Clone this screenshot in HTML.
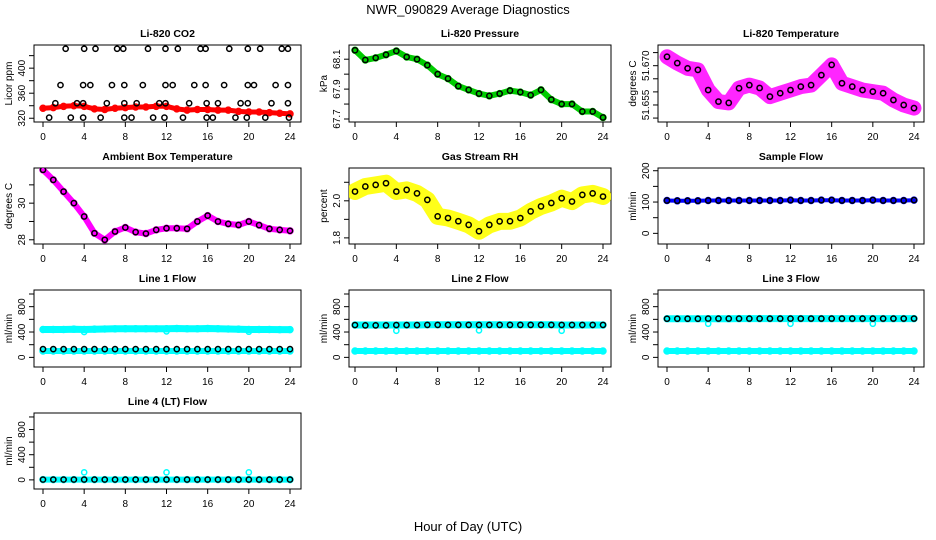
<!DOCTYPE html>
<html><head><meta charset="utf-8"><style>
html,body{margin:0;padding:0;background:#fff;}
svg{display:block;font-family:"Liberation Sans",sans-serif;}
</style></head><body>
<svg id="chart" width="936" height="540" viewBox="0 0 936 540">
<rect width="936" height="540" fill="#fff"/>
<text x="468" y="14" font-size="13" text-anchor="middle">NWR_090829  Average Diagnostics</text>
<text x="468" y="531" font-size="13" text-anchor="middle">Hour of Day (UTC)</text>
</svg>
<script>
// ---------- data ----------
const hours = [0,1,2,3,4,5,6,7,8,9,10,11,12,13,14,15,16,17,18,19,20,21,22,23,24];
const xTicks = [0,4,8,12,16,20,24];

const co2Red = [336,337,339,340,339,335,334,336,337,338,338,339,339,335,333,334,334,333,333,331,330,330,329,328,327];
const co2CalHours = [2.2,4.0,5.1,7.2,7.8,10.2,11.9,13.1,15.3,15.8,18.1,19.9,21.1,23.2,23.8,
 1.7,3.9,4.6,6.7,7.9,9.7,11.9,12.6,14.7,15.8,17.6,19.9,20.5,22.6,23.8,
 1.2,3.3,3.9,6.2,7.9,9.1,11.3,11.9,14.2,15.9,17.0,19.2,19.9,22.2,23.8,
 0.6,2.7,3.9,5.6,7.9,8.6,10.7,11.8,13.6,15.9,16.5,18.7,19.8,21.6,23.9];
const co2CalValues = [431,431,431,431,431,431,431,431,431,431,431,431,431,431,431,
 373,373,373,373,373,373,373,373,373,373,373,373,373,373,373,
 344,344,344,344,344,344,344,344,344,344,344,344,344,344,344,
 321,321,321,321,321,321,321,321,321,321,321,321,321,321,321];

const pressure = [68.16,68.095,68.109,68.13,68.155,68.115,68.10,68.06,68.0,67.97,67.92,67.895,67.87,67.855,67.87,67.89,67.88,67.86,67.895,67.83,67.80,67.80,67.75,67.75,67.71];
const liTemp = [51.6734,51.671,51.669,51.6684,51.6607,51.6563,51.6558,51.6614,51.6626,51.6615,51.6582,51.6595,51.6607,51.662,51.6626,51.6664,51.6703,51.6633,51.662,51.6607,51.6601,51.6595,51.6569,51.655,51.6538];
const ambient = [31.82,31.27,30.63,30.0,29.27,28.36,28.0,28.45,28.67,28.42,28.34,28.54,28.63,28.63,28.6,29.0,29.32,29.0,28.87,28.81,29.0,28.8,28.6,28.54,28.49];
const rh = [2.05,2.077,2.086,2.095,2.05,2.059,2.04,2.005,1.916,1.907,1.89,1.87,1.836,1.87,1.889,1.89,1.907,1.943,1.97,1.988,2.014,1.996,2.032,2.04,2.023];
const sampleFlow = [105,104,104,104,105,105,105,105,105,105,105,105,106,105,105,106,106,105,105,105,106,105,105,105,106];

const line1Upper = [440,440,440,445,440,445,448,450,452,452,452,450,452,455,452,452,455,452,448,445,440,440,440,438,438];
const line1Lower = [100,100,100,100,100,100,100,100,100,100,100,100,100,100,100,100,100,100,100,100,100,100,100,100,100];
const line1Black = [130,130,130,130,130,130,130,130,130,130,130,130,130,130,130,130,130,130,130,130,130,130,130,130,130];
const line2Upper = [510,510,510,510,510,510,510,515,515,515,515,515,515,515,515,515,515,515,515,515,510,510,510,510,510];
const line2Lower = [100,100,100,100,100,100,100,100,100,100,100,100,100,100,100,100,100,100,100,100,100,100,100,100,100];
const line2Black = [510,505,505,505,510,510,510,512,512,512,512,512,512,512,512,512,512,512,512,512,512,512,512,512,512];
const line3Upper = [610,610,610,610,610,610,610,612,612,612,612,612,612,612,612,612,612,612,612,612,612,612,612,612,612];
const line3Lower = [100,100,100,100,100,100,100,100,100,100,100,100,100,100,100,100,100,100,100,100,100,100,100,100,100];
const line3Black = [610,610,610,610,612,612,612,612,612,612,612,612,612,612,612,612,612,612,612,612,612,612,612,612,612];
const line4Cyan = [5,5,5,5,5,5,5,5,5,5,5,5,5,5,5,5,5,5,5,5,5,5,5,5,5];
const line4Black = [5,5,5,5,5,5,5,5,5,5,5,5,5,5,5,5,5,5,5,5,5,5,5,5,5];
const outlierHours = [4,12,20];
const line1Outliers = [400,410,405];
const line2Outliers = [420,425,420];
const line3Outliers = [530,530,530];
const line4Outliers = [120,120,120];

// ---------- layout ----------
const NS = "http://www.w3.org/2000/svg";
const svg = document.getElementById('chart');
const cols = [{l:34,r:301,x0:43,x24:290},{l:349,r:611,x0:355,x24:603},{l:658,r:924,x0:667,x24:914}];
const rows = [{t:45,b:122},{t:168,b:244},{t:290,b:367},{t:413,b:489}];

function mk(tag, attrs, parent){
  const e = document.createElementNS(NS, tag);
  for (const k in attrs) e.setAttribute(k, attrs[k]);
  (parent||svg).appendChild(e);
  return e;
}

function panel(name, ci, ri, title, ylab, dom, ticks, labels){
  const c = cols[ci], r = rows[ri];
  const g = mk('g', {});
  
  
  const xs = h => c.x0 + (c.x24 - c.x0) * h / 24;
  const ys = v => r.b - (v - dom[0]) / (dom[1] - dom[0]) * (r.b - r.t);
  const t = mk('text', {x:(c.l+c.r)/2, y:r.t-8, 'font-size':10.5, 'font-weight':'bold', 'text-anchor':'middle'}, g);
  t.textContent = title;
  
  
  const box = mk('rect', {x:c.l, y:r.t, width:c.r-c.l, height:r.b-r.t, fill:'none', stroke:'#000', 'stroke-width':1}, g);
  
  
  const xa = mk('g', {}, g);
  
  
  mk('line', {x1:xs(xTicks[0]), x2:xs(xTicks[xTicks.length-1]), y1:r.b, y2:r.b, stroke:'#000'}, xa);
  xTicks.forEach(h => {
    mk('line', {x1:xs(h), x2:xs(h), y1:r.b, y2:r.b+5, stroke:'#000'}, xa);
    const tl = mk('text', {x:xs(h), y:r.b+18, 'font-size':10, 'text-anchor':'middle'}, xa);
    tl.textContent = h;
  });
  const ya = mk('g', {}, g);
  
  
  mk('line', {x1:c.l, x2:c.l, y1:ys(ticks[0]), y2:ys(ticks[ticks.length-1]), stroke:'#000'}, ya);
  ticks.forEach(v => mk('line', {x1:c.l-5, x2:c.l, y1:ys(v), y2:ys(v), stroke:'#000'}, ya));
  labels.forEach(v => {
    const yy = ys(parseFloat(v));
    const tl = mk('text', {x:c.l-9, y:yy, 'font-size':10, 'text-anchor':'middle', transform:`rotate(-90 ${c.l-9} ${yy})`}, ya);
    tl.textContent = v;
  });
  const yt = mk('text', {x:c.l-22, y:(r.t+r.b)/2, 'font-size':10, 'text-anchor':'middle', transform:`rotate(-90 ${c.l-22} ${(r.t+r.b)/2})`}, g);
  yt.textContent = ylab;
  
  
  const clip = 'clip-' + name;
  const cp = mk('clipPath', {id:clip}, g);
  mk('rect', {x:c.l, y:r.t, width:c.r-c.l, height:r.b-r.t}, cp);
  const marks = mk('g', {'clip-path':`url(#${clip})`}, g);
  return {xs, ys, g:marks};
}

function band(p, xsArr, vals, color, width, nm, op){
  const pts = vals.map((v,i) => p.xs(xsArr[i]).toFixed(1) + ',' + p.ys(v).toFixed(1)).join(' ');
  const pl = mk('polyline', {points:pts, fill:'none', stroke:color, 'stroke-width':width, 'stroke-linecap':'round', 'stroke-linejoin':'round', 'stroke-opacity':op||1}, p.g);
  
  
  vals.forEach((v,i) => {
    const c = mk('circle', {cx:p.xs(xsArr[i]), cy:p.ys(v), r:3, fill:'none', stroke:color, 'stroke-width':1.5}, p.g);
    
    
  });
}
function dots(p, xsArr, vals, color, nm, r){
  vals.forEach((v,i) => {
    const c = mk('circle', {cx:p.xs(xsArr[i]), cy:p.ys(v), r:r||2.6, fill:'none', stroke:color, 'stroke-width':1.5}, p.g);
    
    
  });
}

// ---------- panels ----------
let p;
p = panel('co2', 0, 0, 'Li-820 CO2', 'Licor ppm', [314,437], [320,340,360,380,400,420], ['320','360','400']);
band(p, hours, co2Red, '#ff0000', 5, 'co2-red');
dots(p, co2CalHours, co2CalValues, '#000', 'co2-cal');

p = panel('pressure', 1, 0, 'Li-820 Pressure', 'kPa', [67.68,68.195], [67.7,67.8,67.9,68.0,68.1], ['67.7','67.9','68.1']);
band(p, hours, pressure, '#00cc00', 6, 'pressure');
dots(p, hours, pressure, '#000', 'pressure-avg');

p = panel('li-temp', 2, 0, 'Li-820 Temperature', 'degrees C', [51.6485,51.6779], [51.650,51.655,51.660,51.665,51.670,51.675], ['51.655','51.670']);
band(p, hours, liTemp, '#ff00ff', 15, 'li-temp', 0.85);
dots(p, hours, liTemp, '#000', 'li-temp-avg');

p = panel('ambient', 0, 1, 'Ambient Box Temperature', 'degrees C', [27.77,31.92], [28,29,30,31], ['28','30']);
band(p, hours, ambient, '#ff00ff', 6, 'ambient');
dots(p, hours, ambient, '#000', 'ambient-avg');

p = panel('rh', 1, 1, 'Gas Stream RH', 'percent', [1.767,2.177], [1.8,1.9,2.0,2.1], ['1.8','2.0']);
band(p, hours, rh, '#ffff00', 17, 'rh', 0.9);
dots(p, hours, rh, '#000', 'rh-avg');

p = panel('sample-flow', 2, 1, 'Sample Flow', 'ml/min', [-34,208.7], [0,50,100,150,200], ['0','100','200']);
band(p, hours, sampleFlow, '#0000ff', 4, 'sample-flow');
dots(p, hours, sampleFlow, '#000', 'sample-flow-avg');

const fT = [0,200,400,600,800,1000], fL = ['0','400','800'];
p = panel('line1', 0, 2, 'Line 1 Flow', 'ml/min', [-152,1063], fT, fL);
band(p, hours, line1Upper, '#00ffff', 7, 'line1-upper');
band(p, hours, line1Lower, '#00ffff', 6, 'line1-lower');
dots(p, outlierHours, line1Outliers, '#00ffff', 'line1-outlier');
dots(p, hours, line1Black, '#000', 'line1-avg');

p = panel('line2', 1, 2, 'Line 2 Flow', 'ml/min', [-152,1063], fT, fL);
band(p, hours, line2Upper, '#00ffff', 7, 'line2-upper');
band(p, hours, line2Lower, '#00ffff', 6, 'line2-lower');
dots(p, outlierHours, line2Outliers, '#00ffff', 'line2-outlier');
dots(p, hours, line2Black, '#000', 'line2-avg');

p = panel('line3', 2, 2, 'Line 3 Flow', 'ml/min', [-152,1063], fT, fL);
band(p, hours, line3Upper, '#00ffff', 7, 'line3-upper');
band(p, hours, line3Lower, '#00ffff', 6, 'line3-lower');
dots(p, outlierHours, line3Outliers, '#00ffff', 'line3-outlier');
dots(p, hours, line3Black, '#000', 'line3-avg');

p = panel('line4', 0, 3, 'Line 4 (LT) Flow', 'ml/min', [-145,1063], fT, fL);
band(p, hours, line4Cyan, '#00ffff', 6, 'line4');
dots(p, outlierHours, line4Outliers, '#00ffff', 'line4-outlier');
dots(p, hours, line4Black, '#000', 'line4-avg');
</script>
</body></html>
